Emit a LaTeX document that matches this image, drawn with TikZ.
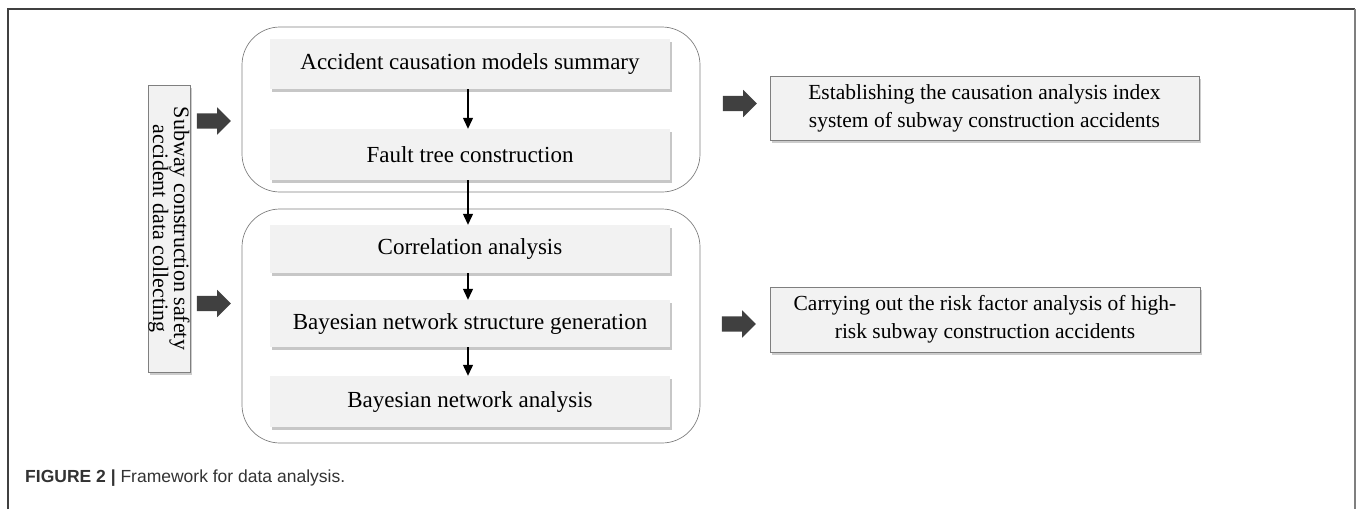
\documentclass[tikz,border=0pt]{standalone}
\usepackage{fontspec}
\setmainfont{Liberation Serif}
\newfontfamily\capfont{Liberation Sans}
\usetikzlibrary{shadows,shapes.arrows,arrows.meta}
\definecolor{boxfill}{HTML}{F2F2F2}
\definecolor{blockarrow}{HTML}{404040}
\definecolor{framegray}{HTML}{7F7F7F}
\definecolor{captext}{HTML}{333333}
\tikzset{
  inbox/.style={fill=boxfill, draw=none, minimum width=400pt, inner sep=0pt,
    font=\fontsize{23}{27}\selectfont,
    drop shadow={shadow xshift=1.5pt, shadow yshift=-2.5pt, opacity=0.55, fill=gray!80}},
  outbox/.style={fill=boxfill, draw=framegray, line width=0.8pt, inner sep=0pt, align=center,
    font=\fontsize{21.5}{28}\selectfont,
    drop shadow={shadow xshift=2pt, shadow yshift=-3pt, opacity=0.5, fill=gray!80}},
  container/.style={draw=framegray, line width=0.7pt, rounded corners=38pt, inner sep=0pt},
  blockarr/.style={single arrow, fill=blockarrow, draw=none, minimum height=34pt,
    minimum width=27pt, single arrow head extend=6pt, inner xsep=0pt, inner ysep=7.5pt,
    single arrow tip angle=90},
  flow/.style={-{Triangle[width=10pt,length=11pt]}, line width=1.2pt, black}
}
\begin{document}
\begin{tikzpicture}[x=1pt,y=-1pt]
\useasboundingbox (0,0) rectangle (1358,509);
% frame
\draw[line width=1.5pt, black!75] (8,509) -- (8,9) -- (1355,9);
\draw[line width=2.5pt, framegray] (1355,9) -- (1355,509);
% containers
\node[container, minimum width=458pt, minimum height=165pt] (c1) at (471,109.5) {};
\node[container, minimum width=458pt, minimum height=234pt] (c2) at (471,326) {};
% inner boxes
\node[inbox, minimum height=50pt] (b1) at (470,64) {Accident causation models summary};
\node[inbox, minimum height=51pt] (b2) at (470,154.5) {Fault tree construction};
\node[inbox, minimum height=48pt] (b3) at (470,249) {Correlation analysis};
\node[inbox, minimum height=47pt] (b4) at (470,323.5) {Bayesian network structure generation};
\node[inbox, minimum height=51pt] (b5) at (470,401.5) {Bayesian network analysis};
\draw[flow] (b1.south -| 468,0) -- (b2.north -| 468,0);
\draw[flow] (b2.south -| 468,0) -- (b3.north -| 468,0);
\draw[flow] (b3.south -| 468,0) -- (b4.north -| 468,0);
\draw[flow] (b4.south -| 468,0) -- (b5.north -| 468,0);
% left box
\node[outbox, minimum width=42pt, minimum height=287pt] (src) at (169,228.5) {};
\node[rotate=-90, align=center, inner sep=0pt, font=\fontsize{22}{19}\selectfont] (srct) at (src.center)
  {Subway construction safety\\accident data collecting};
% right boxes
\node[outbox, minimum width=429pt, minimum height=64pt] (r1) at (984.5,108)
  {Establishing the causation analysis index\\system of subway construction accidents};
\node[outbox, minimum width=430pt, minimum height=65pt] (r2) at (985,319.5)
  {Carrying out the risk factor analysis of high-\\risk subway construction accidents};
% block arrows
\node[blockarr] (a1) at (210,121) {};
\node[blockarr] (a2) at (210,303.5) {};
\node[blockarr] (a3) at (736,103.5) {};
\node[blockarr] (a4) at (735,324) {};
% caption
\node[anchor=base west, inner sep=0pt, font=\capfont\fontsize{17.5}{20}\selectfont, text=captext] (cap) at (25,482)
  {\textbf{FIGURE 2} \textbf{|} Framework for data analysis.};
\end{tikzpicture}
\end{document}
